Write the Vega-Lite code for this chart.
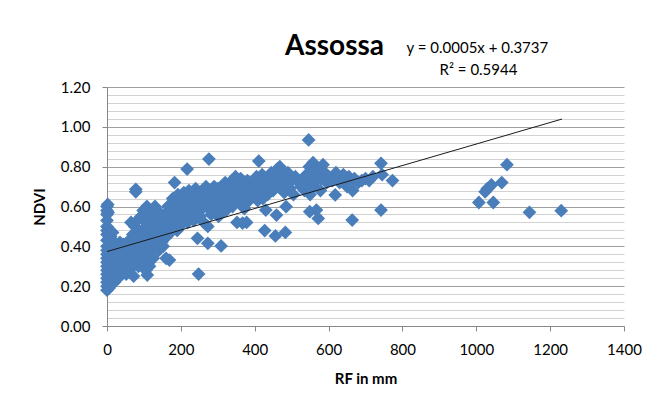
{
  "$schema": "https://vega.github.io/schema/vega-lite/v6.json",
  "width": 517,
  "height": 239,
  "autosize": {"type": "none"},
  "padding": {"left": 107, "top": 87, "right": 30, "bottom": 82},
  "background": "white",
  "config": {"view": {"stroke": null}, "font": "Lato"},
  "resolve": {"axis": {"y": "independent"}},
  "datasets": {
    "points": [
      {"rf":0,"ndvi":0.18},{"rf":0,"ndvi":0.2},{"rf":0,"ndvi":0.22},{"rf":0,"ndvi":0.24},{"rf":0,"ndvi":0.26},{"rf":0,"ndvi":0.28},{"rf":0,"ndvi":0.3},{"rf":0,"ndvi":0.32},{"rf":0,"ndvi":0.34},{"rf":0,"ndvi":0.36},{"rf":0,"ndvi":0.38},{"rf":0,"ndvi":0.4},{"rf":0,"ndvi":0.43},{"rf":0,"ndvi":0.46},{"rf":0,"ndvi":0.48},{"rf":0,"ndvi":0.5},{"rf":0,"ndvi":0.53},{"rf":0,"ndvi":0.56},{"rf":0,"ndvi":0.58},{"rf":0,"ndvi":0.6},
      {"rf":2,"ndvi":0.61},{"rf":3,"ndvi":0.57},{"rf":5,"ndvi":0.19},{"rf":5,"ndvi":0.23},{"rf":5,"ndvi":0.27},{"rf":5,"ndvi":0.31},{"rf":5,"ndvi":0.35},{"rf":5,"ndvi":0.44},{"rf":5,"ndvi":0.47},
      {"rf":8,"ndvi":0.21},{"rf":8,"ndvi":0.29},{"rf":8,"ndvi":0.33},{"rf":8,"ndvi":0.39},{"rf":8,"ndvi":0.42},{"rf":10,"ndvi":0.25},{"rf":10,"ndvi":0.3},{"rf":10,"ndvi":0.37},{"rf":10,"ndvi":0.45},
      {"rf":12,"ndvi":0.22},{"rf":12,"ndvi":0.28},{"rf":12,"ndvi":0.34},{"rf":12,"ndvi":0.41},{"rf":15,"ndvi":0.24},{"rf":15,"ndvi":0.32},{"rf":15,"ndvi":0.38},{"rf":15,"ndvi":0.47},
      {"rf":18,"ndvi":0.27},{"rf":18,"ndvi":0.35},{"rf":20,"ndvi":0.22},{"rf":20,"ndvi":0.3},{"rf":20,"ndvi":0.42},{"rf":22,"ndvi":0.26},{"rf":25,"ndvi":0.25},{"rf":25,"ndvi":0.33},{"rf":25,"ndvi":0.4},
      {"rf":28,"ndvi":0.29},{"rf":30,"ndvi":0.24},{"rf":30,"ndvi":0.36},{"rf":32,"ndvi":0.31},{"rf":35,"ndvi":0.27},{"rf":35,"ndvi":0.42},{"rf":38,"ndvi":0.34},{"rf":40,"ndvi":0.3},{"rf":40,"ndvi":0.38},
      {"rf":45,"ndvi":0.28},{"rf":45,"ndvi":0.41},{"rf":50,"ndvi":0.33},{"rf":50,"ndvi":0.37},{"rf":52,"ndvi":0.26},{"rf":55,"ndvi":0.4},{"rf":58,"ndvi":0.31},{"rf":60,"ndvi":0.43},{"rf":62,"ndvi":0.36},
      {"rf":65,"ndvi":0.52},{"rf":65,"ndvi":0.29},{"rf":68,"ndvi":0.39},{"rf":70,"ndvi":0.46},{"rf":72,"ndvi":0.25},{"rf":72,"ndvi":0.33},{"rf":75,"ndvi":0.5},{"rf":78,"ndvi":0.686},{"rf":78,"ndvi":0.674},
      {"rf":80,"ndvi":0.42},{"rf":80,"ndvi":0.36},{"rf":82,"ndvi":0.53},{"rf":85,"ndvi":0.3},{"rf":88,"ndvi":0.47},{"rf":90,"ndvi":0.39},{"rf":92,"ndvi":0.55},{"rf":95,"ndvi":0.44},{"rf":95,"ndvi":0.35},
      {"rf":98,"ndvi":0.58},{"rf":100,"ndvi":0.49},{"rf":100,"ndvi":0.32},{"rf":102,"ndvi":0.41},{"rf":105,"ndvi":0.52},{"rf":105,"ndvi":0.28},{"rf":108,"ndvi":0.6},{"rf":109,"ndvi":0.256},{"rf":110,"ndvi":0.45},
      {"rf":112,"ndvi":0.37},{"rf":115,"ndvi":0.55},{"rf":115,"ndvi":0.3},{"rf":118,"ndvi":0.49},{"rf":120,"ndvi":0.42},{"rf":122,"ndvi":0.58},{"rf":125,"ndvi":0.34},{"rf":125,"ndvi":0.52},{"rf":128,"ndvi":0.46},
      {"rf":130,"ndvi":0.39},{"rf":130,"ndvi":0.6},{"rf":133,"ndvi":0.55},{"rf":135,"ndvi":0.44},{"rf":138,"ndvi":0.5},{"rf":140,"ndvi":0.38},{"rf":142,"ndvi":0.57},{"rf":145,"ndvi":0.47},{"rf":148,"ndvi":0.42},
      {"rf":150,"ndvi":0.53},{"rf":152,"ndvi":0.4},{"rf":155,"ndvi":0.49},{"rf":158,"ndvi":0.56},{"rf":160,"ndvi":0.34},{"rf":162,"ndvi":0.45},{"rf":165,"ndvi":0.6},{"rf":169,"ndvi":0.331},{"rf":170,"ndvi":0.52},
      {"rf":172,"ndvi":0.47},{"rf":175,"ndvi":0.58},{"rf":178,"ndvi":0.64},{"rf":180,"ndvi":0.5},{"rf":183,"ndvi":0.72},{"rf":185,"ndvi":0.55},{"rf":188,"ndvi":0.61},{"rf":190,"ndvi":0.48},{"rf":192,"ndvi":0.66},
      {"rf":195,"ndvi":0.53},{"rf":198,"ndvi":0.59},{"rf":200,"ndvi":0.63},{"rf":202,"ndvi":0.51},{"rf":205,"ndvi":0.57},{"rf":208,"ndvi":0.67},{"rf":210,"ndvi":0.54},{"rf":212,"ndvi":0.61},{"rf":215,"ndvi":0.65},
      {"rf":217,"ndvi":0.788},{"rf":218,"ndvi":0.52},{"rf":220,"ndvi":0.58},{"rf":222,"ndvi":0.68},{"rf":225,"ndvi":0.55},{"rf":228,"ndvi":0.62},{"rf":230,"ndvi":0.66},{"rf":232,"ndvi":0.59},{"rf":235,"ndvi":0.53},
      {"rf":238,"ndvi":0.64},{"rf":240,"ndvi":0.69},{"rf":242,"ndvi":0.57},{"rf":245,"ndvi":0.44},{"rf":245,"ndvi":0.61},{"rf":248,"ndvi":0.261},{"rf":250,"ndvi":0.66},{"rf":252,"ndvi":0.55},{"rf":255,"ndvi":0.63},
      {"rf":258,"ndvi":0.59},{"rf":260,"ndvi":0.67},{"rf":262,"ndvi":0.52},{"rf":265,"ndvi":0.64},{"rf":268,"ndvi":0.7},{"rf":270,"ndvi":0.6},{"rf":273,"ndvi":0.415},{"rf":273,"ndvi":0.5},{"rf":276,"ndvi":0.838},
      {"rf":278,"ndvi":0.66},{"rf":280,"ndvi":0.62},{"rf":282,"ndvi":0.56},{"rf":285,"ndvi":0.68},{"rf":288,"ndvi":0.64},{"rf":290,"ndvi":0.7},{"rf":292,"ndvi":0.58},{"rf":295,"ndvi":0.66},{"rf":298,"ndvi":0.61},
      {"rf":300,"ndvi":0.69},{"rf":302,"ndvi":0.55},{"rf":305,"ndvi":0.64},{"rf":309,"ndvi":0.402},{"rf":310,"ndvi":0.7},{"rf":312,"ndvi":0.6},{"rf":315,"ndvi":0.67},{"rf":318,"ndvi":0.63},{"rf":320,"ndvi":0.72},
      {"rf":322,"ndvi":0.58},{"rf":325,"ndvi":0.68},{"rf":328,"ndvi":0.65},{"rf":330,"ndvi":0.71},{"rf":333,"ndvi":0.62},{"rf":335,"ndvi":0.67},{"rf":338,"ndvi":0.73},{"rf":340,"ndvi":0.6},{"rf":342,"ndvi":0.69},
      {"rf":345,"ndvi":0.64},{"rf":348,"ndvi":0.75},{"rf":350,"ndvi":0.66},{"rf":352,"ndvi":0.52},{"rf":355,"ndvi":0.7},{"rf":358,"ndvi":0.62},{"rf":360,"ndvi":0.68},{"rf":362,"ndvi":0.74},{"rf":367,"ndvi":0.517},
      {"rf":368,"ndvi":0.65},{"rf":370,"ndvi":0.71},{"rf":372,"ndvi":0.59},{"rf":375,"ndvi":0.67},{"rf":378,"ndvi":0.52},{"rf":380,"ndvi":0.73},{"rf":385,"ndvi":0.63},{"rf":390,"ndvi":0.69},{"rf":395,"ndvi":0.66},
      {"rf":400,"ndvi":0.72},{"rf":405,"ndvi":0.75},{"rf":408,"ndvi":0.63},{"rf":411,"ndvi":0.828},{"rf":412,"ndvi":0.7},{"rf":415,"ndvi":0.67},{"rf":418,"ndvi":0.73},{"rf":420,"ndvi":0.76},{"rf":422,"ndvi":0.64},
      {"rf":425,"ndvi":0.69},{"rf":427,"ndvi":0.479},{"rf":430,"ndvi":0.582},{"rf":432,"ndvi":0.72},{"rf":435,"ndvi":0.66},{"rf":438,"ndvi":0.74},{"rf":440,"ndvi":0.7},{"rf":445,"ndvi":0.77},{"rf":448,"ndvi":0.73},
      {"rf":450,"ndvi":0.68},{"rf":452,"ndvi":0.75},{"rf":456,"ndvi":0.452},{"rf":459,"ndvi":0.557},{"rf":460,"ndvi":0.71},{"rf":462,"ndvi":0.79},{"rf":465,"ndvi":0.74},{"rf":468,"ndvi":0.8},{"rf":470,"ndvi":0.76},
      {"rf":472,"ndvi":0.7},{"rf":475,"ndvi":0.78},{"rf":478,"ndvi":0.73},{"rf":480,"ndvi":0.67},{"rf":483,"ndvi":0.47},{"rf":485,"ndvi":0.599},{"rf":485,"ndvi":0.75},{"rf":488,"ndvi":0.71},{"rf":490,"ndvi":0.77},
      {"rf":495,"ndvi":0.69},{"rf":500,"ndvi":0.73},{"rf":505,"ndvi":0.66},{"rf":510,"ndvi":0.75},{"rf":520,"ndvi":0.72},{"rf":525,"ndvi":0.7},{"rf":530,"ndvi":0.74},{"rf":535,"ndvi":0.68},{"rf":540,"ndvi":0.76},
      {"rf":545,"ndvi":0.72},{"rf":546,"ndvi":0.934},{"rf":548,"ndvi":0.8},{"rf":549,"ndvi":0.574},{"rf":550,"ndvi":0.66},{"rf":552,"ndvi":0.78},{"rf":555,"ndvi":0.74},{"rf":558,"ndvi":0.82},{"rf":560,"ndvi":0.7},
      {"rf":562,"ndvi":0.77},{"rf":565,"ndvi":0.8},{"rf":567,"ndvi":0.582},{"rf":568,"ndvi":0.73},{"rf":570,"ndvi":0.76},{"rf":572,"ndvi":0.54},{"rf":575,"ndvi":0.79},{"rf":578,"ndvi":0.68},{"rf":580,"ndvi":0.74},
      {"rf":585,"ndvi":0.81},{"rf":590,"ndvi":0.77},{"rf":595,"ndvi":0.72},{"rf":600,"ndvi":0.75},{"rf":610,"ndvi":0.73},{"rf":618,"ndvi":0.658},{"rf":620,"ndvi":0.77},{"rf":625,"ndvi":0.75},{"rf":630,"ndvi":0.72},
      {"rf":640,"ndvi":0.76},{"rf":645,"ndvi":0.74},{"rf":650,"ndvi":0.7},{"rf":655,"ndvi":0.75},{"rf":660,"ndvi":0.72},{"rf":664,"ndvi":0.532},{"rf":665,"ndvi":0.68},{"rf":670,"ndvi":0.74},{"rf":680,"ndvi":0.72},
      {"rf":690,"ndvi":0.73},{"rf":700,"ndvi":0.74},{"rf":710,"ndvi":0.73},{"rf":720,"ndvi":0.75},{"rf":742,"ndvi":0.817},{"rf":742,"ndvi":0.582},{"rf":745,"ndvi":0.76},{"rf":773,"ndvi":0.73},
      {"rf":1007,"ndvi":0.62},{"rf":1024,"ndvi":0.674},{"rf":1030,"ndvi":0.69},{"rf":1041,"ndvi":0.708},{"rf":1046,"ndvi":0.62},{"rf":1069,"ndvi":0.72},{"rf":1083,"ndvi":0.81},{"rf":1144,"ndvi":0.571},{"rf":1230,"ndvi":0.579}
    ],
    "trend": [{"rf": 0, "ndvi": 0.3737}, {"rf": 1232, "ndvi": 1.039}],
    "eq": [{"label": "y = 0.0005x + 0.3737", "rf": 1003, "ndvi": 1.396}, {"label": "R² = 0.5944", "rf": 1006, "ndvi": 1.285}],
    "ttl": [{"label": "Assossa", "rf": 616, "ndvi": 1.36}]
  },
  "layer": [
    {
      "data": {"name": "trend"},
      "mark": {"type": "line", "color": "#1a1a1a", "strokeWidth": 0, "opacity": 0},
      "encoding": {
        "x": {"field": "rf", "type": "quantitative", "scale": {"domain": [0, 1400], "nice": false}},
        "y": {"field": "ndvi", "type": "quantitative", "scale": {"domain": [0, 1.2], "nice": false},
          "axis": {"orient": "left", "values": [0.04, 0.08, 0.12, 0.16, 0.24, 0.28, 0.32, 0.36, 0.44, 0.48, 0.52, 0.56, 0.64, 0.68, 0.72, 0.76, 0.84, 0.88, 0.92, 0.96, 1.04, 1.08, 1.12, 1.16],
            "grid": true, "gridColor": "#d2d2d2", "labels": false, "ticks": false, "domain": false, "title": null, "zindex": 0}}
      }
    },
    {
      "data": {"name": "points"},
      "mark": {"type": "point", "shape": "diamond", "filled": true, "size": 190, "color": "#4a7ebb", "opacity": 1},
      "encoding": {
        "x": {"field": "rf", "type": "quantitative", "scale": {"domain": [0, 1400], "nice": false},
          "axis": {"values": [0, 200, 400, 600, 800, 1000, 1200, 1400], "format": "d", "grid": false, "title": "RF in mm", "titleFont": "Lato", "titleFontSize": 15, "titleFontWeight": "bold", "titleColor": "#000000", "titlePadding": 14, "labelFont": "Lato", "labelFontSize": 15, "labelColor": "#000000", "labelPadding": 11, "tickSize": 5, "tickColor": "#888888", "domainColor": "#888888", "labelFlush": false, "labelOverlap": false}},
        "y": {"field": "ndvi", "type": "quantitative", "scale": {"domain": [0, 1.2], "nice": false},
          "axis": {"orient": "left", "values": [0, 0.2, 0.4, 0.6, 0.8, 1.0, 1.2], "format": ".2f",
            "grid": true, "gridColor": "#a0a0a0",
            "title": "NDVI", "titleFont": "Lato", "titleFontSize": 15, "titleFontWeight": "bold", "titleColor": "#000000", "titlePadding": 13,
            "labelFont": "Lato", "labelFontSize": 15, "labelColor": "#000000", "labelPadding": 12, "tickSize": 5, "tickColor": "#888888", "domainColor": "#888888", "labelFlush": false, "labelOverlap": false}}
      }
    },
    {
      "data": {"name": "trend"},
      "mark": {"type": "line", "color": "#1a1a1a", "strokeWidth": 1},
      "encoding": {"x": {"field": "rf", "type": "quantitative"}, "y": {"field": "ndvi", "type": "quantitative", "axis": null}}
    },
    {
      "data": {"name": "eq"},
      "mark": {"type": "text", "font": "Lato", "fontSize": 15, "color": "#000000", "align": "center", "baseline": "middle"},
      "encoding": {"x": {"field": "rf", "type": "quantitative"}, "y": {"field": "ndvi", "type": "quantitative", "axis": null}, "text": {"field": "label"}}
    },
    {
      "data": {"name": "ttl"},
      "mark": {"type": "text", "font": "Lato", "fontSize": 28, "fontWeight": "bold", "color": "#000000", "align": "center", "baseline": "alphabetic"},
      "encoding": {"x": {"field": "rf", "type": "quantitative"}, "y": {"field": "ndvi", "type": "quantitative", "axis": null}, "text": {"field": "label"}}
    }
  ]
}
